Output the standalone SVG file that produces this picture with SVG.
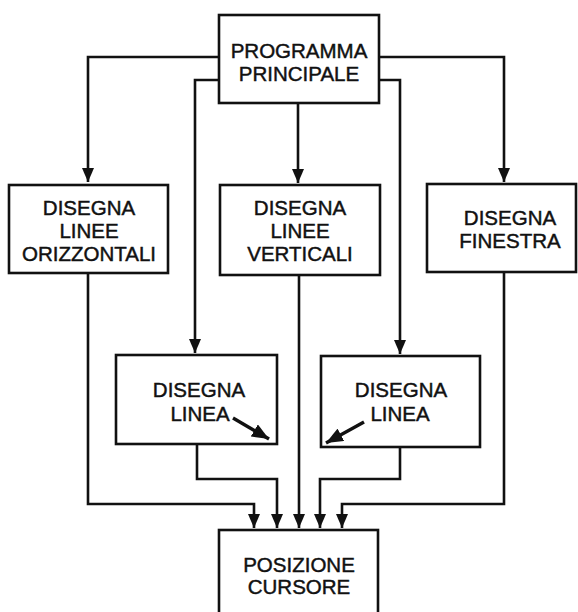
<svg xmlns="http://www.w3.org/2000/svg" width="578" height="612" viewBox="0 0 578 612">
  <defs>
    <style>
      .box { fill: #ffffff; stroke: #111111; stroke-width: 2.6; }
      .lbl { font-family: "Liberation Sans", "DejaVu Sans", sans-serif; font-size: 20.5px; fill: #111111; stroke: #111111; stroke-width: 0.45; text-anchor: middle; }
      .wire { fill: none; stroke: #111111; stroke-width: 2.6; stroke-linejoin: miter; }
      .ptr { fill: none; stroke: #111111; stroke-width: 3.4; }
    </style>
    <marker id="down" markerUnits="userSpaceOnUse" markerWidth="14" markerHeight="16" viewBox="0 0 14 16" refX="7" refY="15" orient="0">
      <path d="M1,1 L13,1 L7,15 Z" fill="#111111"/>
    </marker>
    <marker id="tip" markerUnits="userSpaceOnUse" markerWidth="18" markerHeight="14" viewBox="0 0 18 14" refX="17" refY="7" orient="auto">
      <path d="M0,0 L17,7 L0,14 Z" fill="#111111"/>
    </marker>
  </defs>
  <rect width="578" height="612" fill="#ffffff"/>

  <!-- connectors -->
  <g id="connectors">
    <!-- from main program -->
    <path class="wire" d="M219,57 H88 V182" marker-end="url(#down)"/>
    <path class="wire" d="M219,80 H195 V353" marker-end="url(#down)"/>
    <path class="wire" d="M298,103 V183" marker-end="url(#down)"/>
    <path class="wire" d="M379,80 H400 V354" marker-end="url(#down)"/>
    <path class="wire" d="M379,57 H504 V182" marker-end="url(#down)"/>
    <!-- into cursor positioning -->
    <path class="wire" d="M88,273 V504 H254 V528" marker-end="url(#down)"/>
    <path class="wire" d="M197,444 V479 H277 V528" marker-end="url(#down)"/>
    <path class="wire" d="M299,275 V528" marker-end="url(#down)"/>
    <path class="wire" d="M400,447 V479 H320 V528" marker-end="url(#down)"/>
    <path class="wire" d="M504,272 V504 H342 V528" marker-end="url(#down)"/>
  </g>

  <g id="programma-principale">
    <rect class="box" x="219" y="15" width="160" height="88"/>
    <text class="lbl" x="299" y="58">PROGRAMMA</text>
    <text class="lbl" x="299" y="81">PRINCIPALE</text>
  </g>

  <g id="linee-orizzontali">
    <rect class="box" x="9" y="185" width="159" height="88"/>
    <text class="lbl" x="89" y="215">DISEGNA</text>
    <text class="lbl" x="89" y="238">LINEE</text>
    <text class="lbl" x="89" y="261">ORIZZONTALI</text>
  </g>

  <g id="linee-verticali">
    <rect class="box" x="220" y="185" width="160" height="90"/>
    <text class="lbl" x="300" y="215">DISEGNA</text>
    <text class="lbl" x="300" y="238">LINEE</text>
    <text class="lbl" x="300" y="261">VERTICALI</text>
  </g>

  <g id="finestra">
    <rect class="box" x="427" y="184" width="149" height="88"/>
    <text class="lbl" x="510" y="225">DISEGNA</text>
    <text class="lbl" x="510" y="248">FINESTRA</text>
  </g>

  <g id="linea-sinistra">
    <rect class="box" x="116" y="355" width="161" height="89"/>
    <text class="lbl" x="199" y="397">DISEGNA</text>
    <text class="lbl" x="200" y="421">LINEA</text>
    <line class="ptr" x1="233" y1="418" x2="269" y2="439" marker-end="url(#tip)"/>
  </g>

  <g id="linea-destra">
    <rect class="box" x="321" y="356" width="159" height="91"/>
    <text class="lbl" x="401" y="397">DISEGNA</text>
    <text class="lbl" x="400" y="421">LINEA</text>
    <line class="ptr" x1="364" y1="422" x2="326" y2="443" marker-end="url(#tip)"/>
  </g>

  <g id="posizione-cursore">
    <rect class="box" x="219" y="530" width="159" height="90"/>
    <text class="lbl" x="299" y="572">POSIZIONE</text>
    <text class="lbl" x="299" y="594">CURSORE</text>
  </g>
</svg>
